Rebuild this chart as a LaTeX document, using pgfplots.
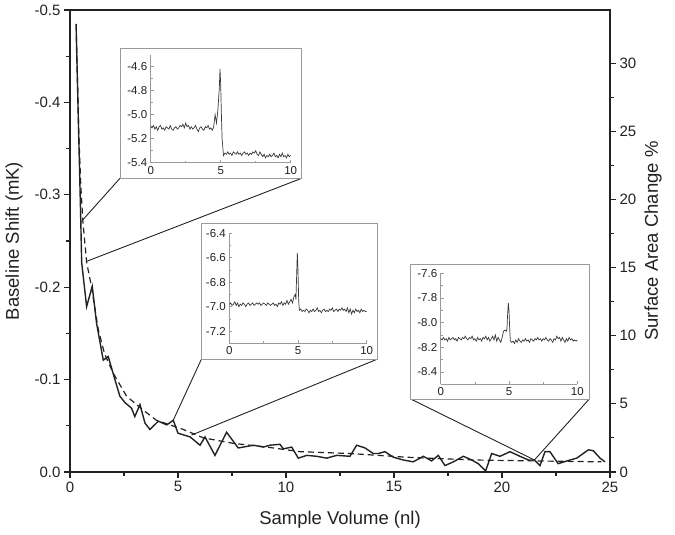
\documentclass[border=0pt]{standalone}
\usepackage{fontspec}
\setmainfont{Liberation Sans}
\usepackage{pgfplots}
\pgfplotsset{compat=1.18}
\definecolor{ink}{HTML}{222222}
\definecolor{trace}{HTML}{3A3A3A}
\definecolor{frame}{HTML}{9A9A9A}
\pgfplotsset{
  inset/.style={
    anchor=south west, scale only axis,
    xmin=0, xmax=10,
    axis x line=bottom, axis y line=left, axis line style={-, frame, line width=0.7pt},
    xtick={0,5,10}, minor x tick num=1, minor y tick num=1,
    tick align=inside, major tick length=3pt, minor tick length=2pt,
    every tick/.style={frame, line width=0.6pt},
    /pgf/number format/assume math mode=true,
    yticklabel style={/pgf/number format/fixed, /pgf/number format/fixed zerofill, /pgf/number format/precision=1},
    tick label style={font=\fontsize{11.5}{13}\selectfont, text=ink},
    clip=false,
  },
}
\begin{document}
\begin{tikzpicture}
\useasboundingbox (-70pt,-63pt) rectangle (605pt,472pt);
\begin{axis}[
  at={(0pt,0pt)}, anchor=south west, scale only axis, width=540pt, height=462pt,
  xmin=0, xmax=25, ymin=-0.5, ymax=0, y dir=reverse,
  xtick={0,5,10,15,20,25}, ytick={-0.5,-0.4,-0.3,-0.2,-0.1,0},
  minor x tick num=1, minor y tick num=1,
  xtick pos=left, ytick pos=left, tick align=outside,
  major tick length=6pt, minor tick length=3.5pt,
  /pgf/number format/assume math mode=true,
  yticklabel style={/pgf/number format/fixed, /pgf/number format/fixed zerofill, /pgf/number format/precision=1},
  tick label style={font=\fontsize{15}{18}\selectfont, text=ink},
  xlabel={Sample Volume (nl)}, ylabel={Baseline Shift (mK)},
  every axis x label/.style={at={(axis description cs:0.5,-0.104)}, anchor=center, font=\fontsize{18.5}{22}\selectfont, text=ink},
  every axis y label/.style={at={(axis description cs:-0.1037,0.5)}, rotate=90, anchor=center, font=\fontsize{18.5}{22}\selectfont, text=ink},
  axis line style={line width=1.1pt, ink},
  every tick/.style={line width=1.1pt, ink},
]
\addplot[ink, line width=1.4pt] coordinates {
(0.28,-0.485)(0.50,-0.271)(0.54,-0.227)(0.77,-0.179)(1.03,-0.201)(1.23,-0.161)
(1.54,-0.121)(1.77,-0.125)(2.08,-0.100)(2.31,-0.082)(2.55,-0.075)(2.85,-0.069)
(3.00,-0.060)(3.24,-0.073)(3.47,-0.053)(3.70,-0.046)(4.09,-0.055)(4.48,-0.051)
(4.78,-0.056)(5.00,-0.042)(5.56,-0.038)(6.02,-0.029)(6.25,-0.038)(6.71,-0.018)
(7.25,-0.043)(7.79,-0.026)(8.49,-0.029)(8.95,-0.027)(9.26,-0.029)(9.72,-0.030)
(9.88,-0.025)(10.26,-0.027)(10.57,-0.015)(10.96,-0.018)(11.42,-0.017)(11.88,-0.015)
(12.35,-0.018)(12.96,-0.017)(13.27,-0.029)(13.66,-0.026)(14.04,-0.020)(14.27,-0.020)
(14.58,-0.022)(14.97,-0.016)(15.43,-0.013)(15.89,-0.011)(16.36,-0.017)(16.74,-0.012)
(17.05,-0.018)(17.36,-0.007)(17.75,-0.011)(18.21,-0.017)(18.60,-0.013)(18.90,-0.009)
(19.24,-0.001)(19.52,-0.020)(19.91,-0.017)(20.37,-0.022)(20.83,-0.017)(21.22,-0.013)
(21.50,-0.013)(21.76,-0.007)(21.99,-0.022)(22.22,-0.022)(22.60,-0.009)(23.15,-0.013)
(23.46,-0.015)(24.00,-0.024)(24.23,-0.023)(24.54,-0.015)(24.77,-0.011)
};
\addplot[ink, line width=1.2pt, dash pattern=on 6pt off 4pt] coordinates {
(0.30,-0.470)(0.40,-0.370)(0.50,-0.310)(0.60,-0.270)(0.77,-0.227)(1.00,-0.200)
(1.31,-0.154)(1.60,-0.128)(2.00,-0.107)(2.62,-0.082)(3.39,-0.067)(4.00,-0.056)
(5.25,-0.046)(6.17,-0.037)(7.56,-0.031)(9.10,-0.027)(10.65,-0.022)(12.96,-0.020)
(15.58,-0.016)(18.67,-0.013)(21.50,-0.012)(24.60,-0.011)
};
\coordinate (a1) at (axis cs:0.52,-0.271);
\coordinate (a2) at (axis cs:0.77,-0.228);
\coordinate (b1) at (axis cs:4.78,-0.056);
\coordinate (b2) at (axis cs:5.63,-0.040);
\coordinate (c1) at (axis cs:21.5,-0.013);
\end{axis}
\begin{axis}[
  at={(0pt,0pt)}, anchor=south west, scale only axis, width=540pt, height=462pt,
  xmin=0, xmax=25, ymin=0, ymax=33.9,
  axis x line=none, axis y line*=right,
  ytick={0,5,10,15,20,25,30}, minor y tick num=1,
  tick align=outside, major tick length=6pt, minor tick length=3.5pt,
  /pgf/number format/assume math mode=true,
  tick label style={font=\fontsize{15}{18}\selectfont, text=ink},
  ylabel={Surface Area Change \%},
  every axis y label/.style={at={(axis description cs:1.0796,0.5)}, rotate=90, anchor=center, font=\fontsize{18.5}{22}\selectfont, text=ink},
  axis line style={line width=1.1pt, ink},
  every tick/.style={line width=1.1pt, ink},
]
\addplot[draw=none] coordinates {(0,0)(25,30)};
\end{axis}
% connectors
\draw[ink, line width=0.9pt] (50pt,293.7pt) -- (a1);
\draw[ink, line width=0.9pt] (231.7pt,293.7pt) -- (a2);
\draw[ink, line width=0.9pt] (131.5pt,113pt) -- (b1);
\draw[ink, line width=0.9pt] (307.7pt,113pt) -- (b2);
\draw[ink, line width=0.9pt] (340.7pt,73pt) -- (c1);
\draw[ink, line width=0.9pt] (519.3pt,73pt) -- (c1);
% inset boxes
\draw[frame, fill=white, line width=0.8pt] (50pt,293.7pt) rectangle (231.7pt,423.7pt);
\draw[frame, fill=white, line width=0.8pt] (131.5pt,113pt) rectangle (307.7pt,249pt);
\draw[frame, fill=white, line width=0.8pt] (340.7pt,73pt) rectangle (519.3pt,207.7pt);
% inset 1
\begin{axis}[inset, at={(80.7pt,309.3pt)}, width=140pt, height=108pt,
  ymin=-5.4, ymax=-4.5, ytick={-5.4,-5.2,-5.0,-4.8,-4.6}]
\addplot[trace, line width=0.7pt] coordinates {
(0.0,-5.10)(0.1,-5.11)(0.2,-5.09)(0.3,-5.12)(0.4,-5.10)(0.5,-5.13)(0.6,-5.10)(0.7,-5.09)(0.8,-5.12)(0.9,-5.11)
(1.0,-5.13)(1.1,-5.10)(1.2,-5.11)(1.3,-5.12)(1.4,-5.09)(1.5,-5.12)(1.6,-5.13)(1.7,-5.11)(1.8,-5.10)(1.9,-5.12)
(2.0,-5.11)(2.1,-5.09)(2.2,-5.10)(2.3,-5.08)(2.4,-5.11)(2.5,-5.07)(2.6,-5.10)(2.7,-5.09)(2.8,-5.12)(2.9,-5.10)
(3.0,-5.12)(3.1,-5.11)(3.2,-5.09)(3.3,-5.12)(3.4,-5.14)(3.5,-5.11)(3.6,-5.10)(3.7,-5.12)(3.8,-5.13)(3.9,-5.10)
(4.0,-5.11)(4.1,-5.09)(4.2,-5.12)(4.3,-5.11)(4.4,-5.13)(4.5,-5.10)(4.6,-5.00)(4.7,-5.07)(4.8,-4.96)(4.9,-4.78)
(4.95,-4.62)(5.0,-4.75)(5.05,-5.00)(5.1,-5.20)(5.2,-5.34)(5.3,-5.32)(5.4,-5.33)(5.5,-5.31)(5.6,-5.33)(5.7,-5.32)
(5.8,-5.34)(5.9,-5.31)(6.0,-5.32)(6.1,-5.33)(6.2,-5.31)(6.3,-5.33)(6.4,-5.32)(6.5,-5.34)(6.6,-5.32)(6.7,-5.31)
(6.8,-5.33)(6.9,-5.32)(7.0,-5.34)(7.1,-5.32)(7.2,-5.33)(7.3,-5.31)(7.4,-5.32)(7.5,-5.30)(7.6,-5.33)(7.7,-5.34)
(7.8,-5.31)(7.9,-5.33)(8.0,-5.35)(8.1,-5.33)(8.2,-5.36)(8.3,-5.34)(8.4,-5.35)(8.5,-5.33)(8.6,-5.35)(8.7,-5.34)
(8.8,-5.32)(8.9,-5.35)(9.0,-5.34)(9.1,-5.36)(9.2,-5.33)(9.3,-5.35)(9.4,-5.32)(9.5,-5.35)(9.6,-5.34)(9.7,-5.36)
(9.8,-5.33)(9.9,-5.35)(10.0,-5.34)
};
\end{axis}
% inset 2
\begin{axis}[inset, at={(159.3pt,128.7pt)}, width=137.4pt, height=110pt,
  ymin=-7.3, ymax=-6.4, ytick={-7.2,-7.0,-6.8,-6.6,-6.4}]
\addplot[trace, line width=0.7pt] coordinates {
(0.0,-6.98)(0.1,-6.97)(0.2,-6.99)(0.3,-6.98)(0.4,-6.96)(0.5,-6.99)(0.6,-6.97)(0.7,-7.00)(0.8,-6.98)(0.9,-6.99)
(1.0,-6.97)(1.1,-6.98)(1.2,-7.00)(1.3,-6.98)(1.4,-6.97)(1.5,-6.99)(1.6,-6.98)(1.7,-6.97)(1.8,-6.99)(1.9,-6.98)
(2.0,-6.97)(2.1,-6.98)(2.2,-6.97)(2.3,-6.99)(2.4,-6.98)(2.5,-6.97)(2.6,-6.98)(2.7,-6.99)(2.8,-6.97)(2.9,-6.98)
(3.0,-6.99)(3.1,-6.98)(3.2,-6.97)(3.3,-6.99)(3.4,-6.98)(3.5,-7.00)(3.6,-6.97)(3.7,-6.98)(3.8,-6.96)(3.9,-6.99)
(4.0,-6.97)(4.1,-6.98)(4.2,-6.95)(4.3,-6.98)(4.4,-6.96)(4.5,-6.94)(4.6,-6.97)(4.7,-6.92)(4.8,-6.90)(4.85,-6.94)
(4.9,-6.75)(4.95,-6.56)(5.0,-6.70)(5.05,-6.95)(5.1,-7.03)(5.2,-7.02)(5.3,-7.04)(5.4,-7.03)(5.5,-7.04)(5.6,-7.02)
(5.7,-7.03)(5.8,-7.05)(5.9,-7.03)(6.0,-7.04)(6.1,-7.02)(6.2,-7.04)(6.3,-7.03)(6.4,-7.01)(6.5,-7.04)(6.6,-7.03)
(6.7,-7.05)(6.8,-7.03)(6.9,-7.02)(7.0,-7.04)(7.1,-7.03)(7.2,-7.04)(7.3,-7.02)(7.4,-7.03)(7.5,-7.01)(7.6,-7.04)
(7.7,-7.03)(7.8,-7.02)(7.9,-7.04)(8.0,-7.02)(8.1,-7.03)(8.2,-7.01)(8.3,-7.03)(8.4,-7.02)(8.5,-7.04)(8.6,-7.01)
(8.7,-7.05)(8.8,-7.02)(8.9,-7.06)(9.0,-7.03)(9.1,-7.05)(9.2,-7.02)(9.3,-7.04)(9.4,-7.03)(9.5,-7.05)(9.6,-7.02)
(9.7,-7.04)(9.8,-7.03)(9.9,-7.04)(10.0,-7.04)
};
\end{axis}
% inset 3
\begin{axis}[inset, at={(370.7pt,87.7pt)}, width=136.6pt, height=111pt,
  ymin=-8.5, ymax=-7.6, ytick={-8.4,-8.2,-8.0,-7.8,-7.6}]
\addplot[trace, line width=0.7pt] coordinates {
(0.0,-8.13)(0.1,-8.14)(0.2,-8.12)(0.3,-8.14)(0.4,-8.13)(0.5,-8.15)(0.6,-8.12)(0.7,-8.14)(0.8,-8.13)(0.9,-8.12)
(1.0,-8.14)(1.1,-8.13)(1.2,-8.15)(1.3,-8.12)(1.4,-8.13)(1.5,-8.14)(1.6,-8.12)(1.7,-8.13)(1.8,-8.11)(1.9,-8.13)
(2.0,-8.14)(2.1,-8.12)(2.2,-8.13)(2.3,-8.11)(2.4,-8.14)(2.5,-8.13)(2.6,-8.15)(2.7,-8.12)(2.8,-8.14)(2.9,-8.13)
(3.0,-8.15)(3.1,-8.12)(3.2,-8.13)(3.3,-8.11)(3.4,-8.14)(3.5,-8.12)(3.6,-8.15)(3.7,-8.13)(3.8,-8.11)(3.9,-8.14)
(4.0,-8.10)(4.1,-8.15)(4.2,-8.12)(4.3,-8.14)(4.4,-8.16)(4.5,-8.12)(4.6,-8.07)(4.7,-8.06)(4.8,-8.07)(4.85,-8.05)
(4.9,-7.93)(4.95,-7.84)(5.0,-7.90)(5.05,-8.05)(5.1,-8.15)(5.2,-8.16)(5.3,-8.15)(5.4,-8.17)(5.5,-8.14)(5.6,-8.16)
(5.7,-8.13)(5.8,-8.15)(5.9,-8.16)(6.0,-8.14)(6.1,-8.15)(6.2,-8.13)(6.3,-8.15)(6.4,-8.14)(6.5,-8.16)(6.6,-8.13)
(6.7,-8.14)(6.8,-8.15)(6.9,-8.13)(7.0,-8.14)(7.1,-8.12)(7.2,-8.14)(7.3,-8.13)(7.4,-8.15)(7.5,-8.13)(7.6,-8.14)
(7.7,-8.12)(7.8,-8.14)(7.9,-8.15)(8.0,-8.13)(8.1,-8.14)(8.2,-8.16)(8.3,-8.13)(8.4,-8.14)(8.5,-8.11)(8.6,-8.13)
(8.7,-8.12)(8.8,-8.15)(8.9,-8.12)(9.0,-8.14)(9.1,-8.16)(9.2,-8.13)(9.3,-8.15)(9.4,-8.12)(9.5,-8.14)(9.6,-8.13)
(9.7,-8.15)(9.8,-8.14)(9.9,-8.15)(10.0,-8.14)
};
\end{axis}
\end{tikzpicture}
\end{document}
